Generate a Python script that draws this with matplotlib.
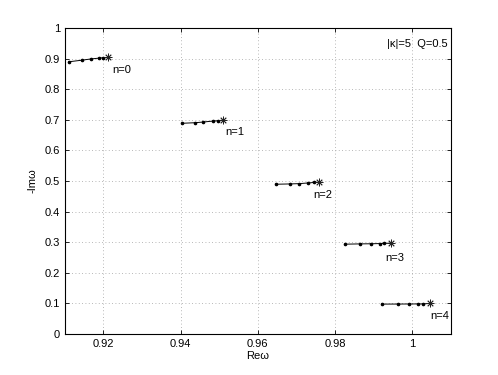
import matplotlib
matplotlib.use("Agg")
import matplotlib.pyplot as plt
from matplotlib.ticker import FixedLocator, FuncFormatter

# traces of each overtone (Re w, -Im w); last point is the limit marked with a star
re_n0 = [0.9111, 0.9144, 0.9167, 0.9190, 0.9198, 0.9213]
im_n0 = [0.890, 0.895, 0.899, 0.902, 0.903, 0.904]
re_n1 = [0.9403, 0.9438, 0.9459, 0.9485, 0.9498, 0.9511]
im_n1 = [0.6886, 0.6905, 0.6928, 0.6960, 0.6970, 0.6993]
re_n2 = [0.9647, 0.9684, 0.9708, 0.9731, 0.9746, 0.9759]
im_n2 = [0.4892, 0.4902, 0.4912, 0.4935, 0.4950, 0.4958]
re_n3 = [0.9826, 0.9865, 0.9893, 0.9917, 0.9928, 0.9945]
im_n3 = [0.2931, 0.2940, 0.2944, 0.2951, 0.2958, 0.2964]
re_n4 = [0.9921, 0.9964, 0.9993, 1.0016, 1.0029, 1.0046]
im_n4 = [0.0970, 0.0972, 0.0974, 0.0976, 0.0978, 0.0990]

labels = ["n=0", "n=1", "n=2", "n=3", "n=4"]
label_x = [0.9223, 0.9515, 0.9744, 0.9930, 1.0046]
label_y = [0.863, 0.661, 0.454, 0.247, 0.0565]

x_ticks = [0.92, 0.94, 0.96, 0.98, 1.0]
y_ticks = [0, 0.1, 0.2, 0.3, 0.4, 0.5, 0.6, 0.7, 0.8, 0.9, 1.0]

plt.rcParams["font.family"] = ["Liberation Sans", "DejaVu Sans"]
plt.rcParams["font.size"] = 8

fig = plt.figure(figsize=(4.98, 3.75), dpi=100)
ax = fig.add_axes([0.13, 0.11, 0.775, 0.815])

series = [(re_n0, im_n0), (re_n1, im_n1), (re_n2, im_n2), (re_n3, im_n3), (re_n4, im_n4)]
for (xs, ys), lab, lx, ly in zip(series, labels, label_x, label_y):
    ax.plot(xs, ys, color="black", lw=0.7)
    ax.plot(xs[:-1], ys[:-1], ls="none", marker="o", ms=1.6, color="black")
    ax.plot(xs[-1:], ys[-1:], ls="none", marker=(8, 2, 0), ms=5.5, mew=0.6, color="#222222")
    ax.text(lx, ly, lab, ha="left", va="center", fontsize=8)

ax.text(1.0093, 0.948, "|\u03ba|=5  Q=0.5", ha="right", va="center", fontsize=8)

ax.set_xlim(0.91, 1.01)
ax.set_ylim(0, 1)
ax.xaxis.set_major_locator(FixedLocator(x_ticks))
ax.yaxis.set_major_locator(FixedLocator(y_ticks))
ax.xaxis.set_major_formatter(FuncFormatter(lambda v, p: f"{v:g}"))
ax.yaxis.set_major_formatter(FuncFormatter(lambda v, p: f"{v:g}"))
ax.tick_params(direction="in", length=3, width=0.6, top=True, right=True, labelsize=8)
ax.grid(True, ls=(0, (1, 3)), color="#a0a0a0", lw=0.6)
for s in ax.spines.values():
    s.set_linewidth(0.8)
ax.set_xlabel("Re\u03c9", fontsize=8, labelpad=2)
ax.set_ylabel("-Im\u03c9", fontsize=8, labelpad=5)

fig.savefig("out.png", dpi=100)
